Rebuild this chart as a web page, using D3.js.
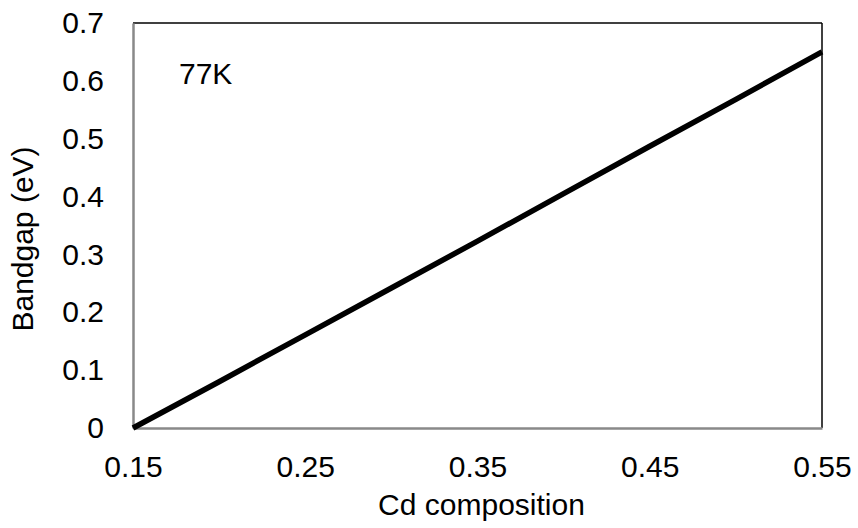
<!DOCTYPE html>
<html><head><meta charset="utf-8">
<script src="https://cdn.jsdelivr.net/npm/d3@7"></script>
<style>body{margin:0;background:#fff}svg{display:block}text{font-family:"Liberation Sans",Arial,sans-serif;fill:#000}</style>
</head><body><svg id="c" width="858" height="528"></svg>
<script>
const composition = [0.15, 0.20, 0.25, 0.30, 0.35, 0.40, 0.45, 0.50, 0.55];
const bandgap = [0.0, 0.080, 0.161, 0.242, 0.323, 0.405, 0.487, 0.568, 0.65];
const xTicks = [0.15, 0.25, 0.35, 0.45, 0.55];
const yTicks = [0, 0.1, 0.2, 0.3, 0.4, 0.5, 0.6, 0.7];
const xTitle = "Cd composition";
const yTitle = "Bandgap (eV)";
const note = "77K";

const svg = d3.select("#c");
const L = 133, R = 822, T = 23, B = 428;
const x = d3.scaleLinear().domain([0.15, 0.55]).range([L, R]);
const y = d3.scaleLinear().domain([0, 0.7]).range([B, T]);

// frame top/right
svg.append("line").attr("x1", L).attr("x2", R).attr("y1", T).attr("y2", T).attr("stroke", "#000").attr("stroke-width", 1.5);
svg.append("line").attr("x1", R).attr("x2", R).attr("y1", T).attr("y2", B).attr("stroke", "#000").attr("stroke-width", 1.5);

const fmtX = d => d3.format(".2f")(d);
const fmtY = d => d === 0 ? "0" : d3.format(".1f")(d);

const xa = svg.append("g").attr("transform", `translate(0,${B})`)
  .call(d3.axisBottom(x).tickValues(xTicks).tickFormat(fmtX).tickSize(0).tickPadding(28));
const ya = svg.append("g").attr("transform", `translate(${L},0)`)
  .call(d3.axisLeft(y).tickValues(yTicks).tickFormat(fmtY).tickSize(0).tickPadding(29));
[xa, ya].forEach(g => {
  g.attr("font-size", null).attr("font-family", null);
  g.select(".domain").attr("stroke", "#898989").attr("stroke-width", 2.5);
  g.selectAll("text").style("font-size", "30px").style("font-family", '"Liberation Sans",Arial,sans-serif').attr("fill", "#000");
});

svg.append("path").datum(composition.map((c, i) => [c, bandgap[i]]))
  .attr("d", d3.line().x(d => x(d[0])).y(d => y(d[1])))
  .attr("fill", "none").attr("stroke", "#000").attr("stroke-width", 5.5);

svg.append("text").attr("x", 179).attr("y", 84).style("font-size", "30px").text(note);
svg.append("text").attr("x", (L + R) / 2 + 4).attr("y", 515).attr("text-anchor", "middle").style("font-size", "30px").text(xTitle);
svg.append("text").attr("transform", `translate(33,239) rotate(-90)`).attr("text-anchor", "middle").style("font-size", "30px").text(yTitle);
</script></body></html>
